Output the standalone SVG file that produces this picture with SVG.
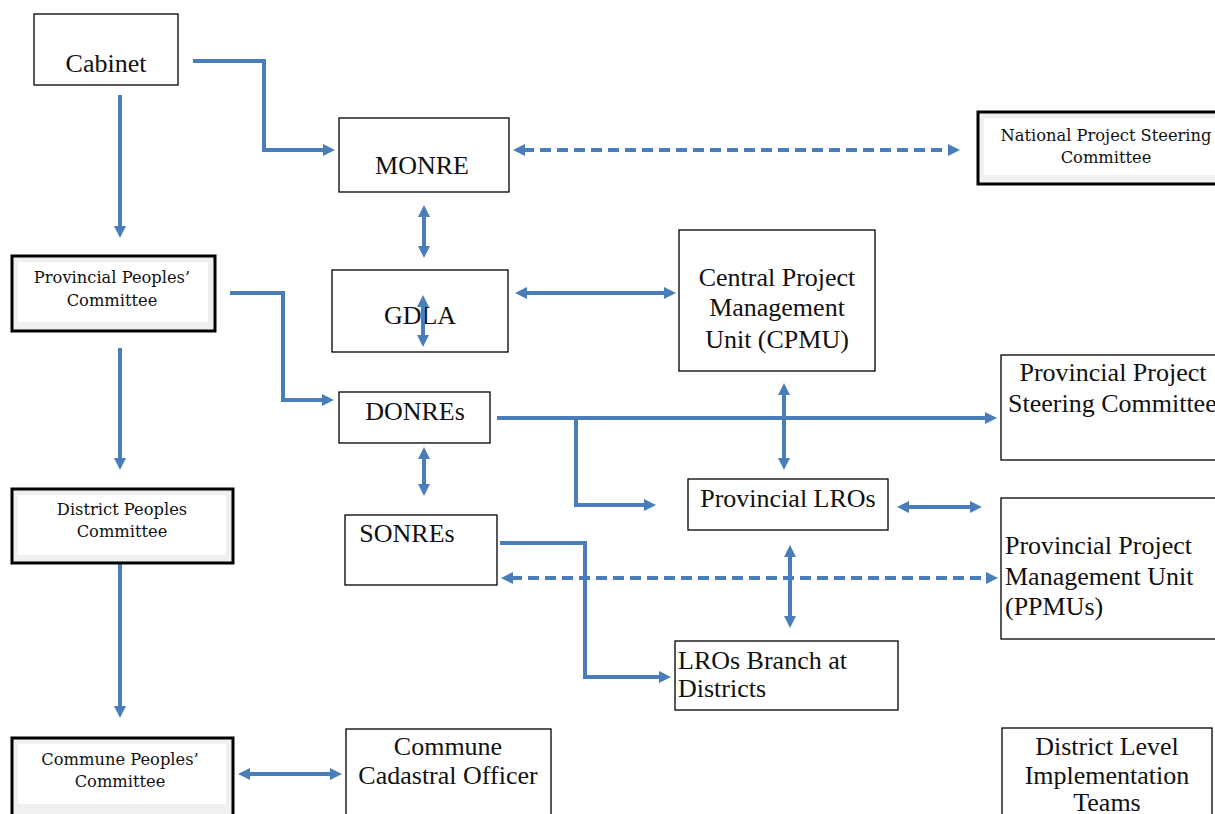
<svg xmlns="http://www.w3.org/2000/svg" width="1215" height="814" viewBox="0 0 1215 814">
<defs>
<style>
.box{fill:#fff;stroke:#000;stroke-width:1.3}
.tbox{fill:#f0f0f0;stroke:#000;stroke-width:3}
.inner{fill:#fff;stroke:none}
.t{font-family:"Liberation Serif","Times New Roman",serif;font-size:26px;fill:#111}
.s{font-family:"DejaVu Serif",serif;font-size:16.3px;fill:#111}
.c{text-anchor:middle}
.ln{fill:none;stroke:#4a7ebb;stroke-width:4}
.d{stroke-dasharray:11,6}
</style>
<marker id="ah" markerUnits="userSpaceOnUse" markerWidth="14" markerHeight="14" refX="2" refY="7" orient="auto-start-reverse" viewBox="0 0 14 14">
<path d="M0,1 L12,7 L0,13 z" fill="#4a7ebb"/>
</marker>
</defs>
<rect width="1215" height="814" fill="#fff"/>

<g id="connectors">
<path class="ln" d="M193,61 H264 V150 H325" marker-end="url(#ah)"/>
<path class="ln" d="M120,95 V228" marker-end="url(#ah)"/>
<path class="ln d" d="M523,150 H950" marker-start="url(#ah)" marker-end="url(#ah)"/>
<path class="ln" d="M424,215 V248" marker-start="url(#ah)" marker-end="url(#ah)"/>
<path class="ln" d="M230,293 H283 V400 H324" marker-end="url(#ah)"/>
<path class="ln" d="M120,348 V460" marker-end="url(#ah)"/>
<path class="ln" d="M497,418 H987" marker-end="url(#ah)"/>
<path class="ln" d="M576,418 V505 H646" marker-end="url(#ah)"/>
<path class="ln" d="M784,393 V460" marker-start="url(#ah)" marker-end="url(#ah)"/>
<path class="ln" d="M424,457 V486" marker-start="url(#ah)" marker-end="url(#ah)"/>
<path class="ln" d="M907,507 H972" marker-start="url(#ah)" marker-end="url(#ah)"/>
<path class="ln" d="M500,543 H585 V677 H661" marker-end="url(#ah)"/>
<path class="ln d" d="M511,578 H988" marker-start="url(#ah)" marker-end="url(#ah)"/>
<path class="ln" d="M790,555 V618" marker-start="url(#ah)" marker-end="url(#ah)"/>
<path class="ln" d="M120,563 V708" marker-end="url(#ah)"/>
<path class="ln" d="M248,774 H332" marker-start="url(#ah)" marker-end="url(#ah)"/>
<path class="ln" d="M525,293 H666" marker-start="url(#ah)" marker-end="url(#ah)"/>
</g>

<g id="cabinet">
<rect class="box" x="34" y="14" width="144" height="71"/>
<text class="t c" x="106" y="72">Cabinet</text>
</g>
<g id="monre">
<rect class="box" x="339" y="118" width="170" height="74"/>
<text class="t c" x="422" y="174">MONRE</text>
</g>
<g id="npsc">
<rect class="tbox" x="978" y="112" width="245" height="72"/>
<rect class="inner" x="984" y="118" width="235" height="57"/>
<text class="s c" x="1106" y="141">National Project Steering</text>
<text class="s c" x="1106" y="163">Committee</text>
</g>
<g id="ppc">
<rect class="tbox" x="12" y="256" width="203" height="75"/>
<rect class="inner" x="18" y="262" width="190" height="60"/>
<text class="s c" x="112" y="283">Provincial Peoples’</text>
<text class="s c" x="112" y="306">Committee</text>
</g>
<g id="gdla">
<rect class="box" x="332" y="270" width="176" height="82"/>
<text class="t c" x="420" y="324">GDLA</text>
</g>
<g id="gdla-inner-arrow">
<path class="ln" d="M423,305 V337" marker-start="url(#ah)" marker-end="url(#ah)"/>
</g>
<g id="cpmu">
<rect class="box" x="679" y="230" width="196" height="141"/>
<text class="t c" x="777" y="286">Central Project</text>
<text class="t c" x="777" y="316">Management</text>
<text class="t c" x="777" y="348">Unit (CPMU)</text>
</g>
<g id="donres">
<rect class="box" x="339" y="392" width="151" height="51"/>
<text class="t c" x="415" y="420">DONREs</text>
</g>
<g id="ppsc">
<rect class="box" x="1001" y="355" width="230" height="105"/>
<text class="t c" x="1113" y="381">Provincial Project</text>
<text class="t" x="1008" y="412">Steering Committee</text>
</g>
<g id="dpc">
<rect class="tbox" x="12" y="489" width="221" height="74"/>
<rect class="inner" x="18" y="495" width="208" height="60"/>
<text class="s c" x="122" y="515">District Peoples</text>
<text class="s c" x="122" y="537">Committee</text>
</g>
<g id="plros">
<rect class="box" x="688" y="479" width="200" height="51"/>
<text class="t c" x="788" y="507">Provincial LROs</text>
</g>
<g id="ppmu">
<rect class="box" x="1001" y="498" width="230" height="141"/>
<text class="t" x="1005" y="554">Provincial Project</text>
<text class="t" x="1005" y="585">Management Unit</text>
<text class="t" x="1005" y="615">(PPMUs)</text>
</g>
<g id="sonres">
<rect class="box" x="345" y="515" width="152" height="70"/>
<text class="t c" x="407" y="542">SONREs</text>
</g>
<g id="lrosbranch">
<rect class="box" x="675" y="641" width="223" height="69"/>
<text class="t" x="678" y="669">LROs Branch at</text>
<text class="t" x="678" y="697">Districts</text>
</g>
<g id="commpc">
<rect class="tbox" x="12" y="738" width="221" height="85"/>
<rect class="inner" x="18" y="744" width="208" height="60"/>
<text class="s c" x="120" y="765">Commune Peoples’</text>
<text class="s c" x="120" y="787">Committee</text>
</g>
<g id="cco">
<rect class="box" x="346" y="729" width="205" height="95"/>
<text class="t c" x="448" y="755">Commune</text>
<text class="t c" x="448" y="784">Cadastral Officer</text>
</g>
<g id="dlit">
<rect class="box" x="1002" y="728" width="210" height="95"/>
<text class="t c" x="1107" y="755">District Level</text>
<text class="t c" x="1107" y="784">Implementation</text>
<text class="t c" x="1107" y="811">Teams</text>
</g>
</svg>
